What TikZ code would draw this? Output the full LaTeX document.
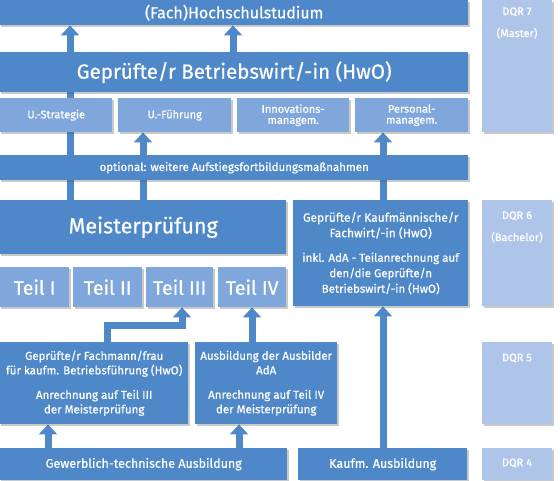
\documentclass[tikz,border=0pt]{standalone}
\usepackage{fontspec}
\setmainfont{Fira Sans}[FakeBold=0.7]
\usetikzlibrary{arrows.meta,shadows}
\definecolor{dkb}{HTML}{4E88C8}
\definecolor{ltb}{HTML}{7FA7DC}
\definecolor{dqb}{HTML}{AEC4E8}
\pgfdeclarelayer{background}
\pgfsetlayers{background,main}
\begin{document}
\begin{tikzpicture}[x=1pt,y=-1pt,
  base/.style={inner sep=0pt, anchor=north west, text=white, align=center,
    drop shadow={shadow xshift=1.3pt,shadow yshift=-1.3pt,opacity=0.3,fill=black!70}},
  dbox/.style={base, fill=dkb},
  lbox/.style={base, fill=ltb},
  qbox/.style={base, fill=dqb},
  qtext/.style={text=white, align=center, anchor=center, inner sep=0pt, font=\fontsize{11}{22}\selectfont},
  arr/.style={draw=dkb, line width=7pt, -{Triangle[width=18pt,length=10pt]}},
]
\useasboundingbox (0,0) rectangle (560,480);
% coordinates for vertical connectors
\coordinate (c48) at (48,0);
\coordinate (c70) at (70,0);
\coordinate (c107) at (107,0);
\coordinate (c143) at (143,0);
\coordinate (c182) at (182,0);
\coordinate (c233) at (233,0);
\coordinate (c239) at (239,0);
\coordinate (c252) at (252,0);
\coordinate (c383) at (383,0);
\coordinate (elb) at (0,325);

% boxes
\node[dbox, minimum width=468pt, minimum height=25pt, font=\fontsize{16}{18}\selectfont] (hoch) at (0,0) {(Fach)Hochschulstudium};
\node[dbox, minimum width=468pt, minimum height=40pt, font=\fontsize{20.5}{24}\selectfont] (bw) at (0,52) {Geprüfte/r Betriebswirt/-in (HwO)};
\node[lbox, minimum width=112pt, minimum height=34pt, font=\fontsize{11}{12}\selectfont] (us) at (0,98) {U.-Strategie};
\node[lbox, minimum width=113pt, minimum height=34pt, font=\fontsize{11}{12}\selectfont] (uf) at (118,98) {U.-Führung};
\node[lbox, minimum width=112pt, minimum height=34pt, font=\fontsize{11}{11}\selectfont] (im) at (237,98) {Innovations-\\managem.};
\node[lbox, minimum width=113pt, minimum height=34pt, font=\fontsize{11}{11}\selectfont] (pm) at (355,98) {Personal-\\managem.};
\node[dbox, minimum width=468pt, minimum height=25pt, font=\fontsize{11.5}{12}\selectfont] (opt) at (0,155) {optional: weitere Aufstiegsfortbildungsmaßnahmen};
\node[dbox, minimum width=286pt, minimum height=54pt, font=\fontsize{21.5}{24}\selectfont] (mp) at (0,200) {Meisterprüfung};
\node[dbox, minimum width=175pt, minimum height=106pt, font=\fontsize{12}{15.5}\selectfont] (kf) at (293,200)
  {Geprüfte/r Kaufmännische/r\\Fachwirt/-in (HwO)\\[9pt]{\fontsize{11.5}{14}\selectfont inkl. AdA - Teilanrechnung auf}\\{\fontsize{11.5}{14}\selectfont den/die Geprüfte/n}\\{\fontsize{11.5}{14}\selectfont Betriebswirt/-in (HwO)}};
\node[lbox, minimum width=69pt, minimum height=40pt, font=\fontsize{19.5}{20}\selectfont] (t1) at (0,267) {Teil I};
\node[lbox, minimum width=69pt, minimum height=40pt, font=\fontsize{19.5}{20}\selectfont] (t2) at (73,267) {Teil II};
\node[lbox, minimum width=67pt, minimum height=40pt, font=\fontsize{19.5}{20}\selectfont] (t3) at (146,267) {Teil III};
\node[lbox, minimum width=68pt, minimum height=40pt, font=\fontsize{19.5}{20}\selectfont] (t4) at (218,267) {Teil IV};
\node[dbox, minimum width=188pt, minimum height=82pt, font=\fontsize{11.5}{14.5}\selectfont] (fm) at (0,342)
  {Geprüfte/r Fachmann/frau\\für kaufm. Betriebsführung (HwO)\\[10pt]Anrechnung auf Teil III\\der Meisterprüfung};
\node[dbox, minimum width=142pt, minimum height=82pt, font=\fontsize{11.5}{14.5}\selectfont] (ab) at (195,342)
  {Ausbildung der Ausbilder\\AdA\\[10pt]Anrechnung auf Teil IV\\der Meisterprüfung};
\node[dbox, minimum width=287pt, minimum height=32pt, font=\fontsize{12.5}{14}\selectfont] (gw) at (0,448) {Gewerblich-technische Ausbildung};
\node[dbox, minimum width=169pt, minimum height=32pt, font=\fontsize{12.5}{14}\selectfont] (ka) at (298,448) {Kaufm. Ausbildung};

% DQR column
\node[qbox, minimum width=70pt, minimum height=132pt] (d7) at (482,0) {};
\node[qbox, minimum width=70pt, minimum height=106pt] (d6) at (482,200) {};
\node[qbox, minimum width=70pt, minimum height=82pt] (d5) at (482,342) {};
\node[qbox, minimum width=70pt, minimum height=32pt] (d4) at (482,448) {};
\node[qtext] (d7t) at (517,23) {DQR 7\\(Master)};
\node[qtext] (d6t) at (517,227) {DQR 6\\(Bachelor)};
\node[qtext] (d5t) at (517,358) {DQR 5};
\node[qtext] (d4t) at (517,463) {DQR 4};

% connectors
\begin{pgfonlayer}{background}
\draw[arr] (mp.north -| c70) -- (hoch.south -| c70);
\draw[arr] (bw.north -| c233) -- (hoch.south -| c233);
\draw[arr] (mp.north -| c143) -- (uf.south -| c143);
\draw[arr] (kf.north -| c383) -- (pm.south -| c383);
\draw[arr] (fm.north -| c107) -- (c107 |- elb) -- (elb -| c182) -- (t3.south -| c182);
\draw[arr] (ab.north -| c252) -- (t4.south -| c252);
\draw[arr] (gw.north -| c48) -- (fm.south -| c48);
\draw[arr] (gw.north -| c239) -- (ab.south -| c239);
\draw[arr] (ka.north -| c383) -- (kf.south -| c383);
\end{pgfonlayer}
\end{tikzpicture}
\end{document}
